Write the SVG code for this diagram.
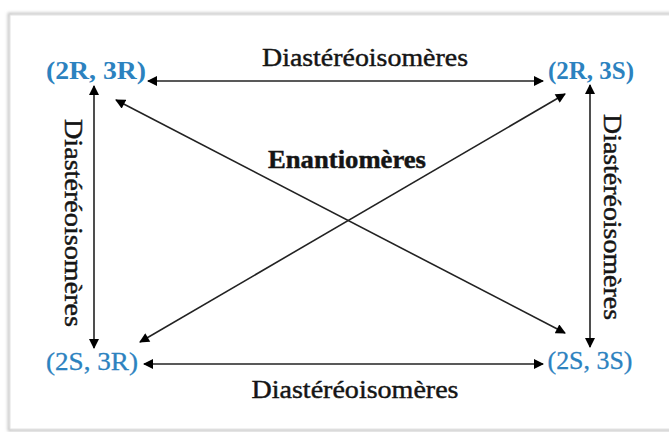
<svg xmlns="http://www.w3.org/2000/svg" width="669" height="432" viewBox="0 0 669 432">
<defs>
<style>
.lbl{font-family:"Liberation Serif","DejaVu Serif",serif;fill:#2c82bf;font-size:26px;text-anchor:middle}
.txt{font-family:"Liberation Serif","DejaVu Serif",serif;fill:#151515;stroke:#151515;stroke-width:0.45;font-size:26px;text-anchor:middle}
.con{stroke:#222;stroke-width:1.6;fill:none;marker-start:url(#ah);marker-end:url(#ah)}
</style>
<marker id="ah" viewBox="0 0 10 10" refX="9" refY="5" markerWidth="11" markerHeight="10" markerUnits="userSpaceOnUse" orient="auto-start-reverse">
<path d="M0,0 L10,5 L0,10 z" fill="#000"/>
</marker>
<filter id="sh" x="-5%" y="-5%" width="110%" height="110%">
<feGaussianBlur stdDeviation="1.5"/>
</filter>
</defs>
<rect width="669" height="432" fill="#fff"/>
<rect x="9" y="14" width="668" height="416" fill="none" stroke="#bdbdbd" stroke-width="2.5" filter="url(#sh)"/>
<rect x="10" y="15" width="666" height="414" fill="#fff" stroke="#e2e2e2" stroke-width="1"/>
<g id="connectors">
<line class="con" x1="148" y1="81" x2="543" y2="81"/>
<line class="con" x1="144" y1="364" x2="543" y2="364"/>
<line class="con" x1="94" y1="86" x2="94" y2="348"/>
<line class="con" x1="590" y1="85" x2="590" y2="347"/>
<line class="con" x1="116" y1="100" x2="565" y2="333"/>
<line class="con" x1="140" y1="342" x2="565" y2="94"/>
</g>
<g id="n2R3R"><text class="lbl" x="96" y="79" font-weight="bold" textLength="100" lengthAdjust="spacingAndGlyphs">(2R, 3R)</text></g>
<g id="n2R3S"><text class="lbl" x="591" y="79" font-weight="bold" textLength="86" lengthAdjust="spacingAndGlyphs">(2R, 3S)</text></g>
<g id="n2S3R"><text class="lbl" x="92" y="370" stroke="#2c82bf" stroke-width="0.3" textLength="92" lengthAdjust="spacingAndGlyphs">(2S, 3R)</text></g>
<g id="n2S3S"><text class="lbl" x="590" y="369" stroke="#2c82bf" stroke-width="0.3" textLength="85" lengthAdjust="spacingAndGlyphs">(2S, 3S)</text></g>
<g id="labels">
<text class="txt" x="365" y="66" textLength="206" lengthAdjust="spacingAndGlyphs">Diastéréoisomères</text>
<text class="txt" x="355" y="398" textLength="207" lengthAdjust="spacingAndGlyphs">Diastéréoisomères</text>
<text class="txt" x="347" y="168" font-weight="bold" font-size="25" stroke-width="0" textLength="158" lengthAdjust="spacingAndGlyphs">Enantiomères</text>
<text class="txt" transform="translate(65,223) rotate(90)" textLength="208" lengthAdjust="spacingAndGlyphs">Diastéréoisomères</text>
<text class="txt" transform="translate(604,217) rotate(90)" textLength="206" lengthAdjust="spacingAndGlyphs">Diastéréoisomères</text>
</g>
</svg>
